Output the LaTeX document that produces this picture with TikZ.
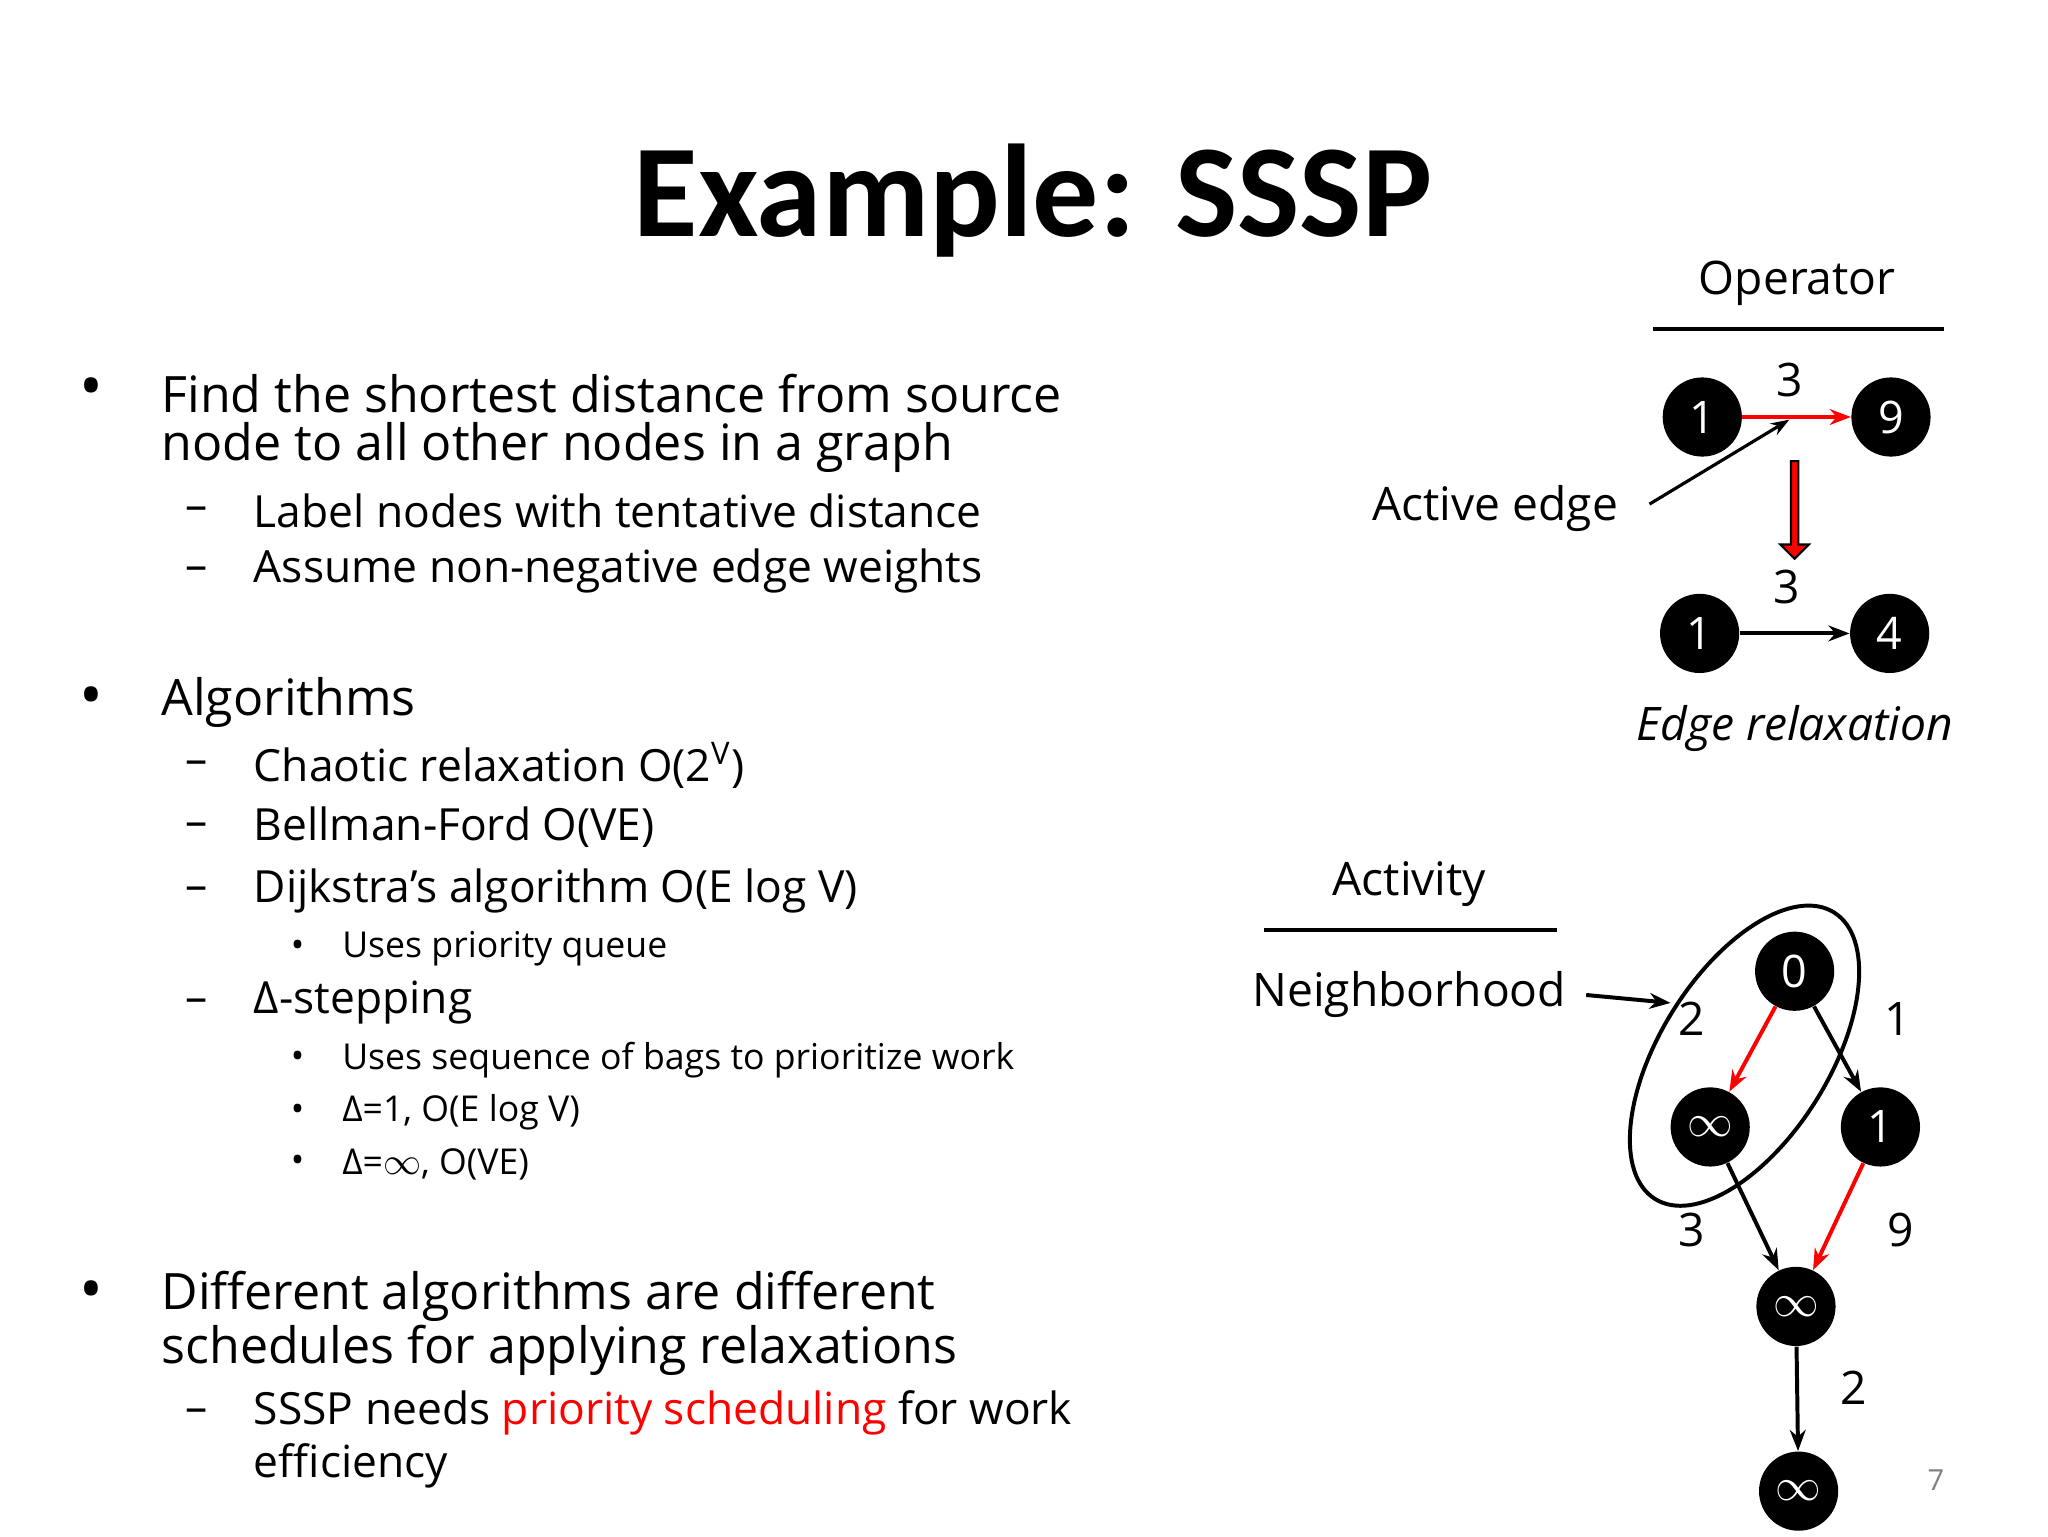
\documentclass[tikz,border=0pt]{standalone}
\usepackage{fontspec}
\setmainfont{Open Sans}
\newfontfamily\titlefont{Carlito}
\usetikzlibrary{arrows.meta,shapes.arrows}
\begin{document}
\begin{tikzpicture}[x=0.5pt,y=-0.5pt,
  vtx/.style={circle,fill=black,minimum size=30pt,inner sep=0pt,text=white,font=\fontsize{17}{20}\selectfont},
  lab/.style={font=\fontsize{17.5}{20}\selectfont},
  t1/.style={anchor=west,font=\fontsize{19}{21}\selectfont,inner sep=0pt},
  t2/.style={anchor=west,font=\fontsize{16.8}{20}\selectfont,inner sep=0pt},
  t3/.style={anchor=west,font=\fontsize{13.5}{17}\selectfont,inner sep=0pt},
  arr/.style={-{Stealth[length=8pt,width=6pt]},line width=1.5pt}]
\useasboundingbox (0,0) rectangle (1552,1164);
\node[font=\titlefont\bfseries\fontsize{50}{56}\selectfont] (title) at (783,152) {Example: SSSP};
% left text
\node[t1,font=\fontsize{24}{21}\selectfont] (b1) at (60,298) {•};
\node[t1] (l1) at (122,298) {Find the shortest distance from source};
\node[t1] (l2) at (122,339) {node to all other nodes in a graph};
\node[t2] (d1) at (140,389) {–};
\node[t2] (l3) at (192,387) {Label nodes with tentative distance};
\node[t2] (d2) at (140,435) {–};
\node[t2] (l4) at (192,433) {Assume non-negative edge weights};
\node[t1,font=\fontsize{24}{21}\selectfont] (b2) at (60,532) {•};
\node[t1] (l5) at (122,532) {Algorithms};
\node[t2] (d3) at (140,582) {–};
\node[t2] (l6) at (192,580) {Chaotic relaxation O(2\textsuperscript{V})};
\node[t2] (d4) at (140,629) {–};
\node[t2] (l7) at (192,627) {Bellman-Ford O(VE)};
\node[t2] (d5) at (140,677) {–};
\node[t2] (l8) at (192,675) {Dijkstra’s algorithm O(E log V)};
\node[t3] (s1) at (220,719) {•};
\node[t3] (l9) at (259,719) {Uses priority queue};
\node[t2] (d6) at (140,762) {–};
\node[t2] (l10) at (192,760) {Δ-stepping};
\node[t3] (s2) at (220,803) {•};
\node[t3] (l11) at (259,803) {Uses sequence of bags to prioritize work};
\node[t3] (s3) at (220,843) {•};
\node[t3] (l12) at (259,843) {Δ=1, O(E log V)};
\node[t3] (s4) at (220,882) {•};
\node[t3] (l13) at (259,882) {Δ=$\infty$, O(VE)};
\node[t1,font=\fontsize{24}{21}\selectfont] (b3) at (60,982) {•};
\node[t1] (l14) at (122,982) {Different algorithms are different};
\node[t1] (l15) at (122,1023) {schedules for applying relaxations};
\node[t2] (d7) at (140,1073) {–};
\node[t2] (l16) at (192,1071) {SSSP needs \textcolor{red}{priority scheduling} for work};
\node[t2] (l17) at (192,1111) {efficiency};
% operator
\node[lab] (op) at (1362,215) {Operator};
\coordinate (opa) at (1253,249); \coordinate (opb) at (1473,249);
\draw[line width=1.5pt] (opa) -- (opb);
\node[vtx] (a1) at (1290,316) {1};
\node[vtx] (a9) at (1433,316) {9};
\draw[arr,red] (a1) -- (a9);
\node[lab] (w1) at (1356,288) {3};
\node[lab] (ae) at (1133,385) {Active edge};
\coordinate (aes) at (1250,382); \coordinate (aet) at (1356,318);
\draw[-{Stealth[length=7pt,width=5pt]},line width=1.2pt] (aes) -- (aet);
\node[single arrow,draw=black,fill=red,shape border rotate=270,minimum height=37pt,minimum width=6pt,single arrow head extend=4pt,single arrow tip angle=90,inner sep=1pt,line width=0.8pt] (bigarr) at (1360,385) {};
\node[vtx] (c1) at (1288,480) {1};
\node[vtx] (c4) at (1432,480) {4};
\draw[arr] (c1) -- (c4);
\node[lab] (w2) at (1354,445) {3};
\node[lab,font=\itshape\fontsize{17.5}{20}\selectfont] (er) at (1360,552) {Edge relaxation};
% activity
\node[lab] (act) at (1068,670) {Activity};
\coordinate (aca) at (958,705); \coordinate (acb) at (1180,705);
\draw[line width=1.5pt] (aca) -- (acb);
\node[lab] (nb) at (1068,754) {Neighborhood};
\draw[line width=1.5pt,rotate around={58:(1322,800)}] (1322,800) ellipse [x radius=128,y radius=64];
\coordinate (nbs) at (1202,754); \coordinate (nbt) at (1266,760);
\draw[arr] (nbs) -- (nbt);
\node[vtx] (n0) at (1360,736) {0};
\node[vtx] (na) at (1296,854) {$\infty$};
\node[vtx] (n1) at (1425,854) {1};
\node[vtx] (nc) at (1361,990) {$\infty$};
\node[vtx] (nd) at (1363,1130) {$\infty$};
\draw[arr,red] (n0) -- (na);
\draw[arr] (n0) -- (n1);
\draw[arr] (na) -- (nc);
\draw[arr,red] (n1) -- (nc);
\draw[arr] (nc) -- (nd);
\node[lab] (e1) at (1282,772) {2};
\node[lab] (e2) at (1438,772) {1};
\node[lab] (e3) at (1282,932) {3};
\node[lab] (e4) at (1440,932) {9};
\node[lab] (e5) at (1405,1052) {2};
\node[text=gray,font=\fontsize{11}{14}\selectfont] (pg) at (1467,1122) {7};
\end{tikzpicture}
\end{document}
